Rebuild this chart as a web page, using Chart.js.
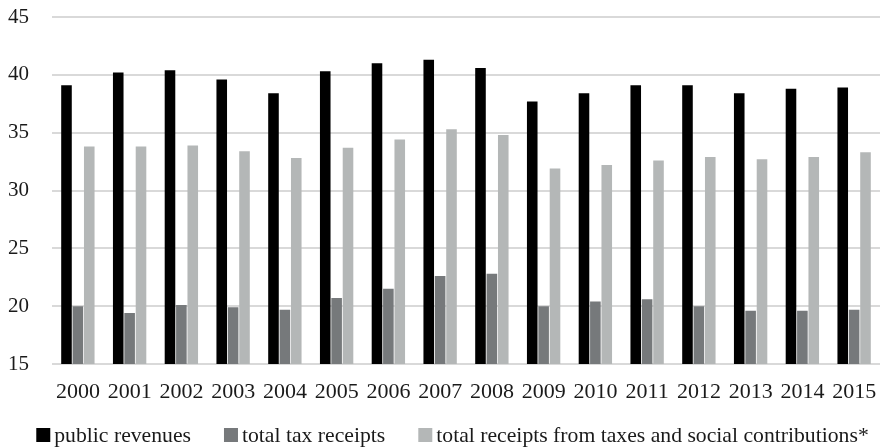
<!DOCTYPE html>
<html>
<head>
<meta charset="utf-8">
<script src="https://cdn.jsdelivr.net/npm/chart.js@4/dist/chart.umd.min.js"></script>
<style>
  html, body { margin: 0; padding: 0; background: #ffffff; }
  #wrap { width: 881px; height: 448px; position: relative; }
</style>
</head>
<body>
<div id="wrap"><canvas id="chart"></canvas></div>
<script>
// Years on the category axis
const years = ['2000','2001','2002','2003','2004','2005','2006','2007',
               '2008','2009','2010','2011','2012','2013','2014','2015'];

// Share of GDP, %
const publicRevenues = [39.1, 40.2, 40.4, 39.6, 38.4, 40.3, 41.0, 41.3,
                        40.6, 37.7, 38.4, 39.1, 39.1, 38.4, 38.8, 38.9];
const totalTaxReceipts = [20.0, 19.4, 20.1, 19.9, 19.7, 20.7, 21.5, 22.6,
                          22.8, 20.0, 20.4, 20.6, 20.0, 19.6, 19.6, 19.7];
const taxesAndContributions = [33.8, 33.8, 33.9, 33.4, 32.8, 33.7, 34.4, 35.3,
                               34.8, 31.9, 32.2, 32.6, 32.9, 32.7, 32.9, 33.3];

const seriesNames = ['public revenues', 'total tax receipts',
                     'total receipts from taxes and social contributions*'];

const FONT = '"Liberation Serif", "Times New Roman", serif';
const TEXT = '#1a1a1a';

const barStyle = { categoryPercentage: 0.66, barPercentage: 0.93, borderWidth: 0 };

// Key drawn under the axis: square swatch, short gap, label
const bottomKey = {
  id: 'bottomKey',
  afterDraw(chart) {
    const ctx = chart.ctx;
    ctx.save();
    ctx.font = '21.7px ' + FONT;
    ctx.textBaseline = 'middle';
    ctx.textAlign = 'left';
    const box = 14, gap = 4, space = 33;
    const items = chart.data.datasets.map(ds => ({
      text: ds.label, color: ds.backgroundColor, w: ctx.measureText(ds.label).width
    }));
    const total = items.reduce((s, it) => s + box + gap + it.w, 0) + space * (items.length - 1);
    let x = chart.width / 2 + 12 - total / 2;
    const y = 435;
    items.forEach(it => {
      ctx.fillStyle = it.color;
      ctx.fillRect(x, y - box / 2, box, box);
      ctx.fillStyle = TEXT;
      ctx.fillText(it.text, x + box + gap, y + 1);
      x += box + gap + it.w + space;
    });
    ctx.restore();
  }
};

new Chart(document.getElementById('chart'), {
  type: 'bar',
  data: {
    labels: years,
    datasets: [
      { label: seriesNames[0], data: publicRevenues, backgroundColor: '#000000', ...barStyle },
      { label: seriesNames[1], data: totalTaxReceipts, backgroundColor: '#76797b', ...barStyle },
      { label: seriesNames[2], data: taxesAndContributions, backgroundColor: '#b4b7b7', ...barStyle }
    ]
  },
  plugins: [bottomKey],
  options: {
    responsive: true,
    maintainAspectRatio: false,
    animation: false,
    layout: { padding: { top: 17, right: 1, left: 0, bottom: 0 } },
    plugins: {
      tooltip: { enabled: false },
      legend: { display: false }
    },
    scales: {
      x: {
        grid: { display: false, drawTicks: false },
        border: { display: false },
        ticks: { font: { family: FONT, size: 22 }, color: TEXT, padding: 15, maxRotation: 0, autoSkip: false },
        afterFit(scale) {
          scale.height = 84;
          scale.paddingLeft = 0;
          scale.paddingRight = 0;
        }
      },
      y: {
        min: 15,
        max: 45,
        ticks: { stepSize: 5, font: { family: FONT, size: 21 }, color: TEXT, padding: 23 },
        grid: { color: '#d9d9d9', lineWidth: 2, drawTicks: false },
        border: { display: false },
        afterFit(scale) {
          scale.width = 52;
          scale.paddingTop = 0;
          scale.paddingBottom = 0;
        }
      }
    }
  }
});
</script>
</body>
</html>
